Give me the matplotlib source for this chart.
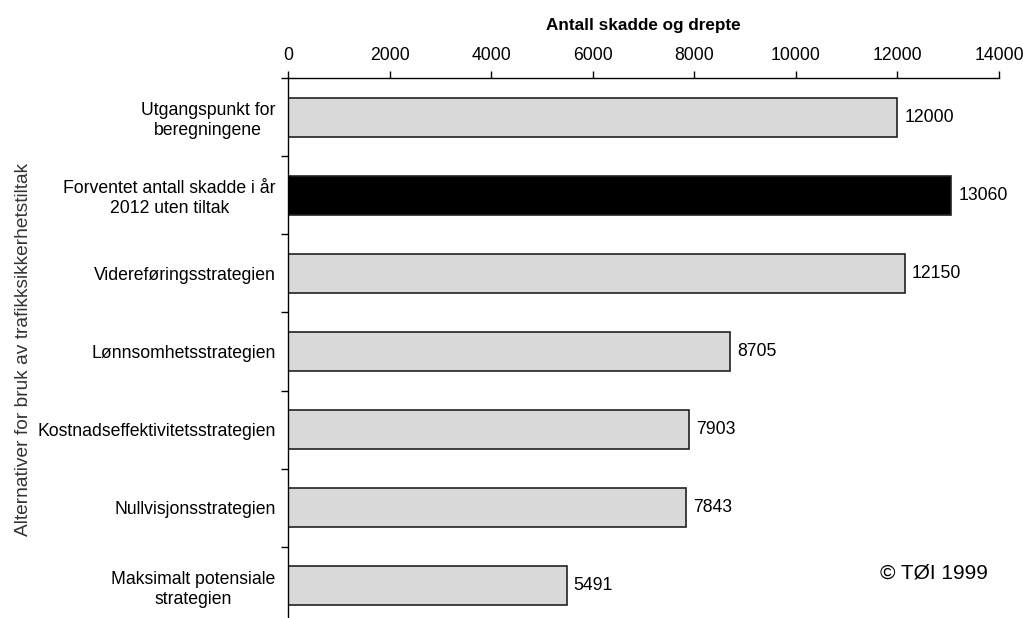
import matplotlib
matplotlib.use("Agg")
import matplotlib.pyplot as plt
import numpy as np

plt.rcParams['font.family'] = ['Liberation Sans', 'DejaVu Sans']

categories = [
    "Utgangspunkt for\nberegningene",
    "Forventet antall skadde i år\n2012 uten tiltak",
    "Videreføringsstrategien",
    "Lønnsomhetsstrategien",
    "Kostnadseffektivitetsstrategien",
    "Nullvisjonsstrategien",
    "Maksimalt potensiale\nstrategien",
]
values = [12000, 13060, 12150, 8705, 7903, 7843, 5491]
colors = ["#d9d9d9", "#000000", "#d9d9d9", "#d9d9d9", "#d9d9d9", "#d9d9d9", "#d9d9d9"]
x_ticks = [0, 2000, 4000, 6000, 8000, 10000, 12000, 14000]

fig = plt.figure(figsize=(10.23, 6.18), dpi=100)
ax = fig.add_axes([0.2815, -0.0113, 0.695, 0.8851])

y = np.arange(len(categories))
ax.barh(y, values, height=0.5, color=colors, edgecolor="#222222", linewidth=1.2)
ax.set_ylim(len(categories) - 0.5, -0.5)
ax.set_xlim(0, 14000)

# value labels just right of each bar end
for yi, v in zip(y, values):
    ax.annotate(f"{v}", xy=(v, yi), xytext=(5, 0), textcoords="offset points",
                va="center", ha="left", fontsize=12.7)

ax.xaxis.tick_top()
ax.xaxis.set_label_position("top")
ax.set_xticks(x_ticks)
ax.set_xticklabels([str(t) for t in x_ticks], fontsize=12.7)
ax.tick_params(axis="x", direction="out", length=5, width=1, pad=5, top=True, bottom=False)
ax.set_xlabel("Antall skadde og drepte", fontsize=12.3, fontweight="bold", labelpad=12.5)

ax.set_yticks(y)
ax.set_yticklabels(categories, fontsize=12.7, multialignment="center")
ax.set_yticks(np.arange(-0.5, len(categories), 1), minor=True)
ax.tick_params(axis="y", which="major", length=0, pad=9)
ax.tick_params(axis="y", which="minor", direction="out", length=5, width=1)

ax.spines["right"].set_visible(False)
ax.spines["bottom"].set_visible(False)
ax.spines["top"].set_linewidth(1)
ax.spines["left"].set_linewidth(1)

fig.text(0.0225, 0.434, "Alternativer for bruk av trafikksikkerhetstiltak",
         rotation=90, va="center", ha="center", fontsize=13.8, color="#333333")
fig.text(0.913, 0.073, "© TØI 1999", ha="center", va="center", fontsize=15)

fig.savefig("out.png", dpi=100)
